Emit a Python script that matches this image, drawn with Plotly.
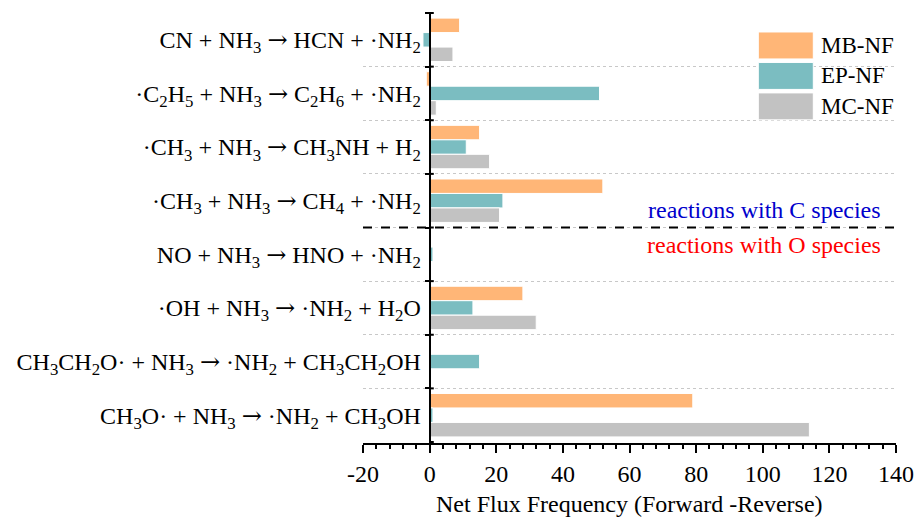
import plotly.graph_objects as go

ARROW = '<span style="font-family:DejaVu Serif">\u2192</span>'

# Reactions (top to bottom) and net flux values per mechanism
reactions = [
    f"CN + NH<sub>3</sub> {ARROW} HCN + \u00b7NH<sub>2</sub>",
    f"\u00b7C<sub>2</sub>H<sub>5</sub> + NH<sub>3</sub> {ARROW} C<sub>2</sub>H<sub>6</sub> + \u00b7NH<sub>2</sub>",
    f"\u00b7CH<sub>3</sub> + NH<sub>3</sub> {ARROW} CH<sub>3</sub>NH + H<sub>2</sub>",
    f"\u00b7CH<sub>3</sub> + NH<sub>3</sub> {ARROW} CH<sub>4</sub> + \u00b7NH<sub>2</sub>",
    f"NO + NH<sub>3</sub> {ARROW} HNO + \u00b7NH<sub>2</sub>",
    f"\u00b7OH + NH<sub>3</sub> {ARROW} \u00b7NH<sub>2</sub> + H<sub>2</sub>O",
    f"CH<sub>3</sub>CH<sub>2</sub>O\u00b7 + NH<sub>3</sub> {ARROW} \u00b7NH<sub>2</sub> + CH<sub>3</sub>CH<sub>2</sub>OH",
    f"CH<sub>3</sub>O\u00b7 + NH<sub>3</sub> {ARROW} \u00b7NH<sub>2</sub> + CH<sub>3</sub>OH",
]
mb_nf = [9, -1, 15, 52, 0, 28, 0, 79]
ep_nf = [-2, 51, 11, 22, 1, 13, 15, 1]
mc_nf = [7, 2, 18, 21, 0, 32, 0, 114]

series_names = ["MB-NF", "EP-NF", "MC-NF"]
series_values = [mb_nf, ep_nf, mc_nf]
series_colors = ["#FFB677", "#7BBDC1", "#C2C2C2"]

x_ticks = [-20, 0, 20, 40, 60, 80, 100, 120, 140]
x_range = [-20, 140]
x_title = "Net Flux Frequency (Forward -Reverse)"

FONT = "Liberation Serif, Times New Roman, serif"

fig = go.Figure()
for name, vals, col in zip(series_names, series_values, series_colors):
    fig.add_trace(go.Bar(
        y=reactions, x=vals, name=name, orientation="h",
        marker=dict(color=col, line=dict(color="white", width=1)),
        showlegend=False,
    ))

W, H = 917, 519
L, R, T, B = 362.7, 21.3, 12, 75.5
pw, ph = W - L - R, H - T - B

def px_x(p):
    return (p - L) / pw

def px_y(p):
    return 1 - (p - T) / ph

shapes = []
# short inward tick halves on the vertical axis at category boundaries
for k in range(len(reactions) + 1):
    shapes.append(dict(type="line", xref="x", yref="y",
                       x0=0, x1=1.25, y0=k - 0.5, y1=k - 0.5,
                       line=dict(color="black", width=2)))
# separator between C-species and O-species reactions
shapes.append(dict(type="line", xref="paper", yref="y",
                   x0=0, x1=1, y0=3.5, y1=3.5,
                   line=dict(color="black", width=2, dash="dash")))

# legend boxes
rows = [(32, 59), (62.5, 89.5), (93, 120)]
annotations = []
for (y0, y1), name, col in zip(rows, series_names, series_colors):
    shapes.append(dict(type="rect", xref="paper", yref="paper",
                       x0=px_x(758), x1=px_x(813), y0=px_y(y1), y1=px_y(y0),
                       fillcolor=col, line=dict(color="white", width=1)))
    annotations.append(dict(xref="paper", yref="paper", x=px_x(819),
                            y=px_y((y0 + y1) / 2), text=name, showarrow=False,
                            xanchor="left", yanchor="middle",
                            font=dict(family=FONT, size=23, color="black")))

annotations.append(dict(xref="x", yref="y", x=136, y=3.17,
                        text="reactions with C species", showarrow=False,
                        xanchor="right", yanchor="middle",
                        font=dict(family=FONT, size=24, color="#0000CC")))
annotations.append(dict(xref="x", yref="y", x=136, y=3.82,
                        text="reactions with O species", showarrow=False,
                        xanchor="right", yanchor="middle",
                        font=dict(family=FONT, size=24, color="#FF0000")))

# x-axis title, sitting low against the bottom edge
annotations.append(dict(xref="paper", yref="paper", x=0.5, y=px_y(505),
                        text=x_title, showarrow=False,
                        xanchor="center", yanchor="middle",
                        font=dict(family=FONT, size=24, color="black")))

fig.update_layout(
    width=W, height=H,
    margin=dict(l=L, r=R, t=T, b=B, pad=0),
    paper_bgcolor="white", plot_bgcolor="white",
    barmode="group", bargap=0.19, bargroupgap=0,
    font=dict(family=FONT, size=24, color="black"),
    shapes=shapes, annotations=annotations,
    xaxis=dict(
        range=x_range, tickvals=x_ticks, ticktext=[str(v) for v in x_ticks],
        showline=True, linecolor="black", linewidth=2,
        ticks="outside", ticklen=8, tickwidth=2, tickcolor="black",
        minor=dict(dtick=4, tick0=0, ticks="outside", ticklen=4,
                   tickwidth=1.5, tickcolor="black", showgrid=False),
        showgrid=False, zeroline=False, automargin=False,
        tickfont=dict(family=FONT, size=24),
    ),
    yaxis=dict(
        type="category", categoryorder="array", categoryarray=reactions,
        autorange="reversed", tickson="boundaries", automargin=False,
        anchor="free", position=(0 - x_range[0]) / (x_range[1] - x_range[0]),
        showline=True, linecolor="black", linewidth=2,
        ticks="outside", ticklen=4, tickwidth=2, tickcolor="black",
        showgrid=True, gridcolor="#C8C8C8", gridwidth=1, griddash="dot",
        tickfont=dict(family=FONT, size=24),
        ticklabelstandoff=3,
        zeroline=False,
    ),
)

fig.write_html("out.html")
